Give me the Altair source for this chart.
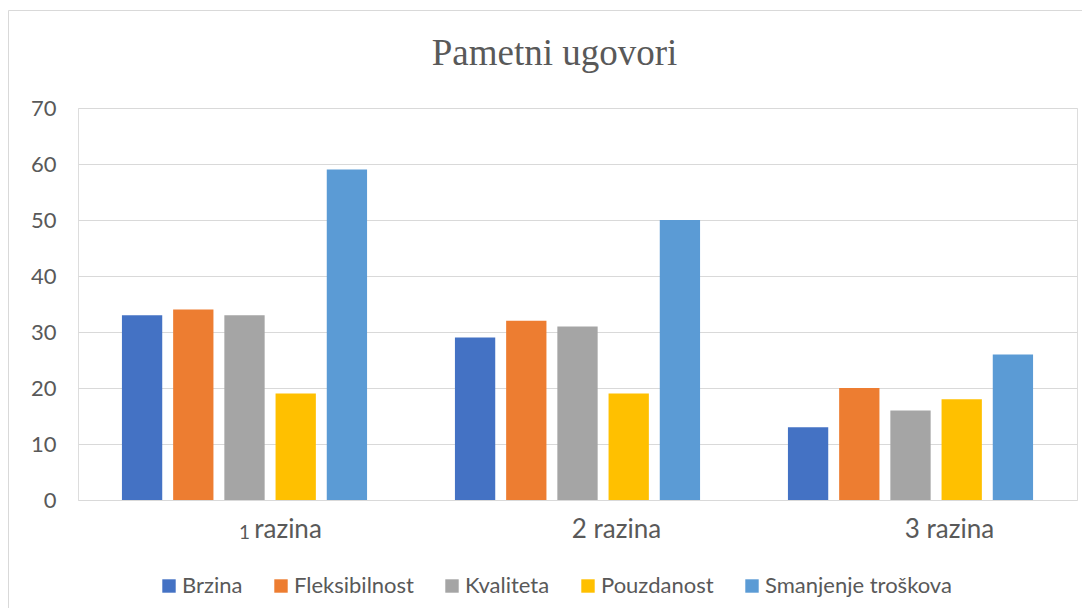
import altair as alt
import pandas as pd

# ---- data ----
categories = ["1 razina", "2 razina", "3 razina"]
series = ["Brzina", "Fleksibilnost", "Kvaliteta", "Pouzdanost", "Smanjenje troškova"]
colors = ["#4472C4", "#ED7D31", "#A5A5A5", "#FFC000", "#5B9BD5"]
brzina = [33, 29, 13]
fleksibilnost = [34, 32, 20]
kvaliteta = [33, 31, 16]
pouzdanost = [19, 19, 18]
smanjenje = [59, 50, 26]
y_ticks = [0, 10, 20, 30, 40, 50, 60, 70]
cat_label_text = ["razina", "2 razina", "3 razina"]
first_number = "1"
title_text = "Pametni ugovori"

rows = []
for s, vals in zip(series, [brzina, fleksibilnost, kvaliteta, pouzdanost, smanjenje]):
    for c, v in zip(categories, vals):
        rows.append({"razina": c, "serija": s, "vrijednost": v})
df = pd.DataFrame(rows)
lab_df = pd.DataFrame({"razina": categories, "label": cat_label_text})
one_df = pd.DataFrame({"razina": [categories[0]], "label": [first_number]})
title_df = pd.DataFrame({"t": [title_text]})
box_df = pd.DataFrame({"k": [0]})

W, H = 999, 392
FONT = "Lato"
TXT = "#595959"
GRID = "#d9d9d9"

xscale = alt.Scale(domain=categories, paddingInner=0, paddingOuter=0)

bars = alt.Chart(df).mark_bar().encode(
    x=alt.X("razina:N", scale=xscale, sort=categories,
            axis=alt.Axis(labels=False, ticks=False, title=None, grid=False,
                          domainColor=GRID, domainWidth=1)),
    xOffset=alt.XOffset("serija:N", sort=series,
                        scale=alt.Scale(domain=series, paddingInner=0.213, paddingOuter=0.858)),
    y=alt.Y("vrijednost:Q", scale=alt.Scale(domain=[0, 70], nice=False),
            axis=alt.Axis(values=y_ticks, title=None, domain=False, ticks=False,
                          gridColor=GRID, gridWidth=1, labelFont=FONT, labelFontSize=22,
                          labelColor=TXT, labelPadding=22)),
    color=alt.Color("serija:N", sort=series,
                    scale=alt.Scale(domain=series, range=colors),
                    legend=alt.Legend(title=None, orient="none", legendX=80, legendY=467,
                                      direction="horizontal", columns=5,
                                      symbolType="square", symbolSize=180,
                                      symbolStrokeWidth=0, symbolOpacity=1,
                                      labelFont=FONT, labelFontSize=22, labelColor=TXT,
                                      labelLimit=0, columnPadding=27, labelOffset=2)),
)

lab_rest = alt.Chart(lab_df).transform_filter(
    alt.datum.razina != categories[0]
).mark_text(dx=39, baseline="alphabetic", align="center", font=FONT, fontSize=26, color=TXT).encode(
    x=alt.X("razina:N", scale=xscale, sort=categories, axis=None),
    y=alt.value(H + 38),
    text="label:N",
)
lab_first = alt.Chart(lab_df).transform_filter(
    alt.datum.razina == categories[0]
).mark_text(dx=43.5, baseline="alphabetic", align="center", font=FONT, fontSize=26, color=TXT).encode(
    x=alt.X("razina:N", scale=xscale, sort=categories, axis=None),
    y=alt.value(H + 38),
    text="label:N",
)
lab_one = alt.Chart(one_df).mark_text(dx=0, baseline="alphabetic", align="center",
                                      font=FONT, fontSize=19, color=TXT).encode(
    x=alt.X("razina:N", scale=xscale, sort=categories, axis=None),
    y=alt.value(H + 39),
    text="label:N",
)

title = alt.Chart(title_df).mark_text(baseline="alphabetic", align="center",
                                      font="Liberation Serif", fontSize=37, color=TXT).encode(
    x=alt.value(476.5), y=alt.value(-43), text="t:N"
)

left_edge = alt.Chart(box_df).mark_rule(color=GRID, strokeWidth=1).encode(
    x=alt.value(-69.5), y=alt.value(-97.5), y2=alt.value(H + 108)
)
top_edge = alt.Chart(box_df).mark_rule(color=GRID, strokeWidth=1).encode(
    x=alt.value(-69.5), x2=alt.value(W + 5), y=alt.value(-97.5)
)

chart = alt.layer(left_edge, top_edge, bars, lab_rest, lab_first, lab_one, title).properties(
    width=W, height=H,
    padding={"left": 70, "top": 100, "right": 5, "bottom": 108},
    autosize=alt.AutoSizeParams(type="none"),
).configure_view(stroke=None).configure(background="white")

chart.save("out.html", embed_options={"renderer": "svg", "actions": False})
